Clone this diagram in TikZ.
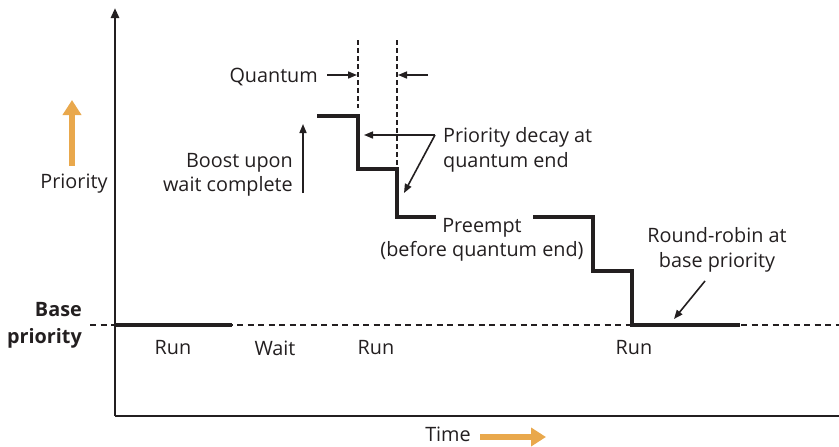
\documentclass[tikz,border=0pt]{standalone}
\usepackage{fontspec}
\setmainfont{Open Sans}
\usetikzlibrary{arrows.meta}
\definecolor{ink}{RGB}{35,31,32}
\definecolor{orng}{RGB}{233,168,76}
\tikzset{
  lbl/.style={inner sep=0pt, text=ink, font=\fontsize{19.8}{24.5}\selectfont},
  axis/.style={draw=ink, line width=2.5pt},
  stepline/.style={draw=ink, line width=4.5pt, line join=miter},
  baseline dash/.style={draw=ink, line width=2pt, dash pattern=on 6pt off 4.5pt},
  quantum dash/.style={draw=ink, line width=2pt, dash pattern=on 5pt off 3pt},
  thinarrow/.style={draw=ink, line width=1.6pt, -{Triangle[length=9pt,width=7pt]}},
  fatarrow/.style={draw=orng, line width=5.5pt, -{Triangle[length=15pt,width=18pt]}}
}
\begin{document}
\begin{tikzpicture}[x=1pt,y=-1pt]
\useasboundingbox (0,0) rectangle (839,447);
% axes
\coordinate (origin) at (115,416);
\coordinate (ytop) at (115,8);
\coordinate (xend) at (839,416);
\draw[axis, -{Triangle[length=10pt,width=8pt]}] (origin) -- (ytop);
\draw[axis] (origin) -- (xend);
% base priority dashed line
\coordinate (bl0) at (90,325);
\coordinate (bl1) at (839,325);
\draw[baseline dash] (bl0) -- (bl1);
% quantum dashed verticals
\coordinate (qd1a) at (358,40); \coordinate (qd1b) at (358,108);
\coordinate (qd2a) at (397,40); \coordinate (qd2b) at (397,165);
\draw[quantum dash] (qd1a) -- (qd1b);
\draw[quantum dash] (qd2a) -- (qd2b);
% run segments
\coordinate (r1a) at (115,325); \coordinate (r1b) at (232,325);
\draw[stepline] (r1a) -- (r1b);
\coordinate (s0) at (317,116);
\coordinate (s1) at (358,116);
\coordinate (s2) at (358,169);
\coordinate (s3) at (397,169);
\coordinate (s4) at (397,217);
\coordinate (s5) at (436,217);
\draw[stepline] (s0) -- (s1) -- (s2) -- (s3) -- (s4) -- (s5);
\coordinate (t0) at (533,217);
\coordinate (t1) at (593,217);
\coordinate (t2) at (593,271);
\coordinate (t3) at (632,271);
\coordinate (t4) at (632,325);
\coordinate (t5) at (740,325);
\draw[stepline] (t0) -- (t1) -- (t2) -- (t3) -- (t4) -- (t5);
% labels
\node[lbl, anchor=east] (quantum) at (318,77) {Quantum};
\coordinate (qa1s) at (327,75); \coordinate (qa1e) at (357,75);
\coordinate (qa2s) at (428,75); \coordinate (qa2e) at (398,75);
\draw[thinarrow] (qa1s) -- (qa1e);
\draw[thinarrow] (qa2s) -- (qa2e);
\node[lbl, align=right, anchor=east] (boost) at (293,175) {Boost upon\\wait complete};
\coordinate (ba0) at (303,193); \coordinate (ba1) at (303,124);
\draw[thinarrow] (ba0) -- (ba1);
\node[lbl, align=left, anchor=west] (decay) at (443,150) {Priority decay at\\quantum end};
\coordinate (dc) at (435,135);
\coordinate (dc1) at (364,135);
\coordinate (dc2) at (404,193);
\draw[thinarrow] (dc) -- (dc1);
\draw[thinarrow] (dc) -- (dc2);
\node[lbl, align=center] (preempt) at (482,240) {Preempt\\(before quantum end)};
\node[lbl, align=center] (rr) at (717,250) {Round-robin at\\base priority};
\coordinate (rra0) at (705,281); \coordinate (rra1) at (674,319);
\draw[thinarrow] (rra0) -- (rra1);
\node[lbl] (prio) at (74,184) {Priority};
\coordinate (pa0) at (72,166); \coordinate (pa1) at (72,100);
\draw[fatarrow] (pa0) -- (pa1);
\node[lbl, align=right, anchor=east, font=\fontsize{19.8}{27}\selectfont\bfseries] (base) at (82,325) {Base\\priority};
\node[lbl] (run1) at (173,348) {Run};
\node[lbl] (wait) at (275,348) {Wait};
\node[lbl] (run2) at (376,348) {Run};
\node[lbl] (run3) at (634,348) {Run};
\node[lbl] (time) at (448,434) {Time};
\coordinate (ta0) at (480,437); \coordinate (ta1) at (546,437);
\draw[fatarrow] (ta0) -- (ta1);
\end{tikzpicture}
\end{document}
